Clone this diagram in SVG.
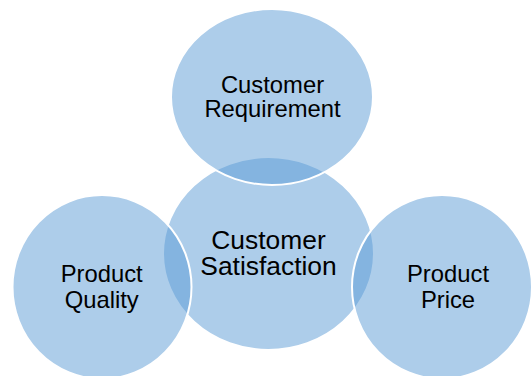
<svg xmlns="http://www.w3.org/2000/svg" width="531" height="376" viewBox="0 0 531 376">
<style>
.c{fill:#5b9bd5;fill-opacity:0.5;stroke:#ffffff;stroke-width:2}
.t{font-family:"Liberation Sans",Arial,sans-serif;font-size:23.8px;fill:#000;text-anchor:middle}
.tc{font-size:26.4px}
</style>
<g id="satisfaction">
<ellipse class="c" cx="268.5" cy="253.5" rx="105.5" ry="96.5"/>
</g>
<g id="requirement">
<ellipse class="c" cx="272" cy="97" rx="101" ry="88"/>
</g>
<g id="quality">
<ellipse class="c" cx="102" cy="287" rx="89.5" ry="92"/>
</g>
<g id="price">
<ellipse class="c" cx="442" cy="287" rx="90" ry="92"/>
</g>
<g id="labels">
<text class="t" x="272.5" y="93.3">Customer</text>
<text class="t" x="272.5" y="117.3">Requirement</text>
<text class="t tc" x="268.5" y="249">Customer</text>
<text class="t tc" x="268.5" y="275">Satisfaction</text>
<text class="t" x="101.7" y="281.7">Product</text>
<text class="t" x="101.7" y="307.7">Quality</text>
<text class="t" x="448" y="282.3">Product</text>
<text class="t" x="448" y="308.3">Price</text>
</g>
<g id="connectors"></g>
</svg>
